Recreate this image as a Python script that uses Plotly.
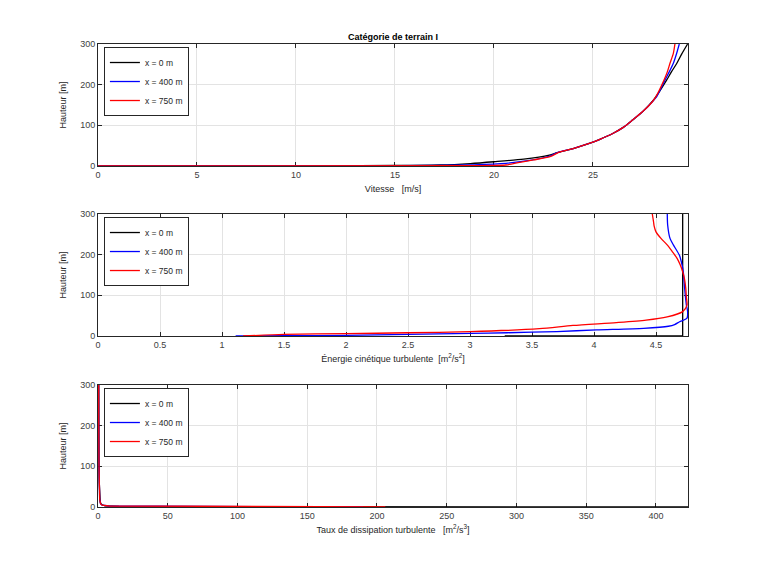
import plotly.graph_objects as go
from plotly.subplots import make_subplots

# --- valeurs ---
noms = ["x = 0 m", "x = 400 m", "x = 750 m"]
couleurs = ["#000000", "#0000ff", "#ff0000"]

# vitesse [m/s] / hauteur [m]
v_x0 = [0, 12, 15, 17.3, 18.8, 20, 21.5, 22.8, 23.2, 24, 24.85, 25.35, 26.0, 26.53, 27.0, 27.54,
        28.05, 28.38, 28.72, 28.97, 29.23, 29.48, 29.78]
z_v_x0 = [0, 0.5, 1.3, 2.5, 6, 10.5, 17, 27, 33, 43, 56, 65.6, 80, 95, 113, 135,
          162, 185, 211, 232, 252, 275, 300]
v_x400 = [0, 14, 17, 19, 20.6, 21.7, 22.83, 23.2, 24, 24.85, 25.35, 26.0, 26.53, 27.0, 27.54,
          28.0, 28.22, 28.64, 28.86, 29.06, 29.22, 29.36]
z_v_x400 = [0, 0.4, 1.2, 3, 6.6, 13, 24.6, 33, 43, 56, 65.6, 80, 95, 113, 135,
            158, 170.5, 211.5, 232, 252.5, 276, 300]
v_x750 = [0, 18.5, 20.6, 21.3, 22.0, 22.83, 23.33, 24, 24.85, 25.35, 26.0, 26.53, 27.0, 27.54,
          28.0, 28.18, 28.59, 28.76, 28.89, 29.06, 29.14]
z_v_x750 = [0, 0.6, 2.5, 9, 15, 23, 35, 43, 56, 65.6, 80, 95, 113, 135,
            158, 170.5, 211.5, 232, 252.5, 277, 300]

# energie cinetique turbulente [m2/s2]
k_x0 = [3.28, 4.715, 4.715]
z_k_x0 = [0, 0.5, 300]
k_x400 = [1.11, 1.5, 2.0, 2.5, 3.0, 3.3, 3.7, 4.02, 4.4, 4.6, 4.65, 4.69, 4.75, 4.755, 4.745,
          4.73, 4.72, 4.71, 4.688, 4.64, 4.613, 4.594, 4.591]
z_k_x400 = [0, 0.8, 1.6, 4, 6.6, 8, 11, 15, 19, 24, 28, 35, 44, 60, 76,
            120, 158, 175, 199, 224, 240, 273, 300]
k_x750 = [1.17, 1.5, 2.0, 2.5, 3.0, 3.56, 3.83, 4.18, 4.42, 4.59, 4.715, 4.75, 4.745, 4.74, 4.73,
          4.715, 4.695, 4.67, 4.63, 4.59, 4.54, 4.50, 4.485, 4.48, 4.47]
z_k_x750 = [0, 4, 5.7, 8, 10.6, 18, 26, 33, 39, 47, 60, 76, 95, 117, 140,
            158, 175, 191, 208, 224, 240, 256, 270, 281, 300]

# taux de dissipation turbulente [m2/s3]
e_x0 = [423, 100, 40, 15, 5, 2.5, 1.6, 1.2, 0.9, 0.7, 0.55, 0.5]
z_e_x0 = [0, 0.3, 0.7, 1.5, 3, 6, 12, 40, 60, 120, 200, 300]
e_x400 = [190, 60, 25, 8, 3, 1.8, 1.2, 0.9, 0.7, 0.55, 0.5]
z_e_x400 = [0, 0.5, 1.2, 2.5, 4.5, 8, 20, 50, 100, 200, 300]
e_x750 = [206, 60, 25, 8, 3, 1.8, 1.2, 0.9, 0.7, 0.55, 0.5]
z_e_x750 = [0, 0.5, 1.2, 2.5, 4.5, 8, 20, 50, 100, 200, 300]

series = [
    [(v_x0, z_v_x0), (v_x400, z_v_x400), (v_x750, z_v_x750)],
    [(k_x0, z_k_x0), (k_x400, z_k_x400), (k_x750, z_k_x750)],
    [(e_x0, z_e_x0), (e_x400, z_e_x400), (e_x750, z_e_x750)],
]
x_max = [29.8, 4.758, 423]
x_dtick = [5, 0.5, 50]
x_titres = [
    "Vitesse   [m/s]",
    "Énergie cinétique turbulente  [m<sup>2</sup>/s<sup>2</sup>]",
    "Taux de dissipation turbulente   [m<sup>2</sup>/s<sup>3</sup>]",
]

fig = make_subplots(rows=3, cols=1, vertical_spacing=0.1)

legendes = ["legend", "legend2", "legend3"]
for i in range(3):
    for j in range(3):
        xs, zs = series[i][j]
        lisse = (i == 0) or (i == 1 and j > 0)
        fig.add_trace(go.Scatter(
            x=xs, y=zs, mode="lines", name=noms[j],
            line=dict(color=couleurs[j], width=1.3,
                      shape="spline" if lisse else "linear", smoothing=0.7),
            legend=legendes[i], showlegend=True,
        ), row=i + 1, col=1)

axe = dict(
    showline=True, linecolor="#262626", linewidth=1, mirror="ticks",
    ticks="inside", ticklen=4, tickcolor="#262626",
    showgrid=True, gridcolor="#e3e3e3", gridwidth=1,
    zeroline=False, layer="below traces",
    tickfont=dict(size=9, color="#404040"),
)

for i in range(3):
    fig.update_xaxes(axe, range=[0, x_max[i]], dtick=x_dtick[i], tick0=0,
                     title=dict(text=x_titres[i], font=dict(size=9, color="#262626"), standoff=6),
                     row=i + 1, col=1)
    fig.update_yaxes(axe, range=[0, 300], dtick=100, tick0=0,
                     title=dict(text="Hauteur [m]", font=dict(size=9, color="#262626"), standoff=12),
                     row=i + 1, col=1)

# positions des axes comme sur l'original
fig.update_layout(
    yaxis=dict(domain=[0.7365, 1.0]),
    yaxis2=dict(domain=[0.3693, 0.6328]),
    yaxis3=dict(domain=[0.0, 0.2635]),
)

leg = dict(
    x=0.01, xanchor="left", yanchor="top",
    bgcolor="white", bordercolor="#262626", borderwidth=1,
    font=dict(size=8.5, color="#262626"), itemwidth=30,
    tracegroupgap=0,
)
fig.update_layout(
    legend=dict(leg, y=0.9935),
    legend2=dict(leg, y=0.6263),
    legend3=dict(leg, y=0.257),
)

fig.update_layout(
    width=760, height=570,
    margin=dict(l=90, r=80, t=36, b=71),
    paper_bgcolor="white", plot_bgcolor="white",
    font=dict(family="Liberation Sans, Arial, sans-serif", size=9, color="#262626"),
    title=dict(text="<b>Catégorie de terrain I</b>", x=0.5, xanchor="center",
               xref="paper", y=1 - 29 / 570, yanchor="middle",
               font=dict(size=9, color="#000000")),
)

fig.write_html("out.html")
